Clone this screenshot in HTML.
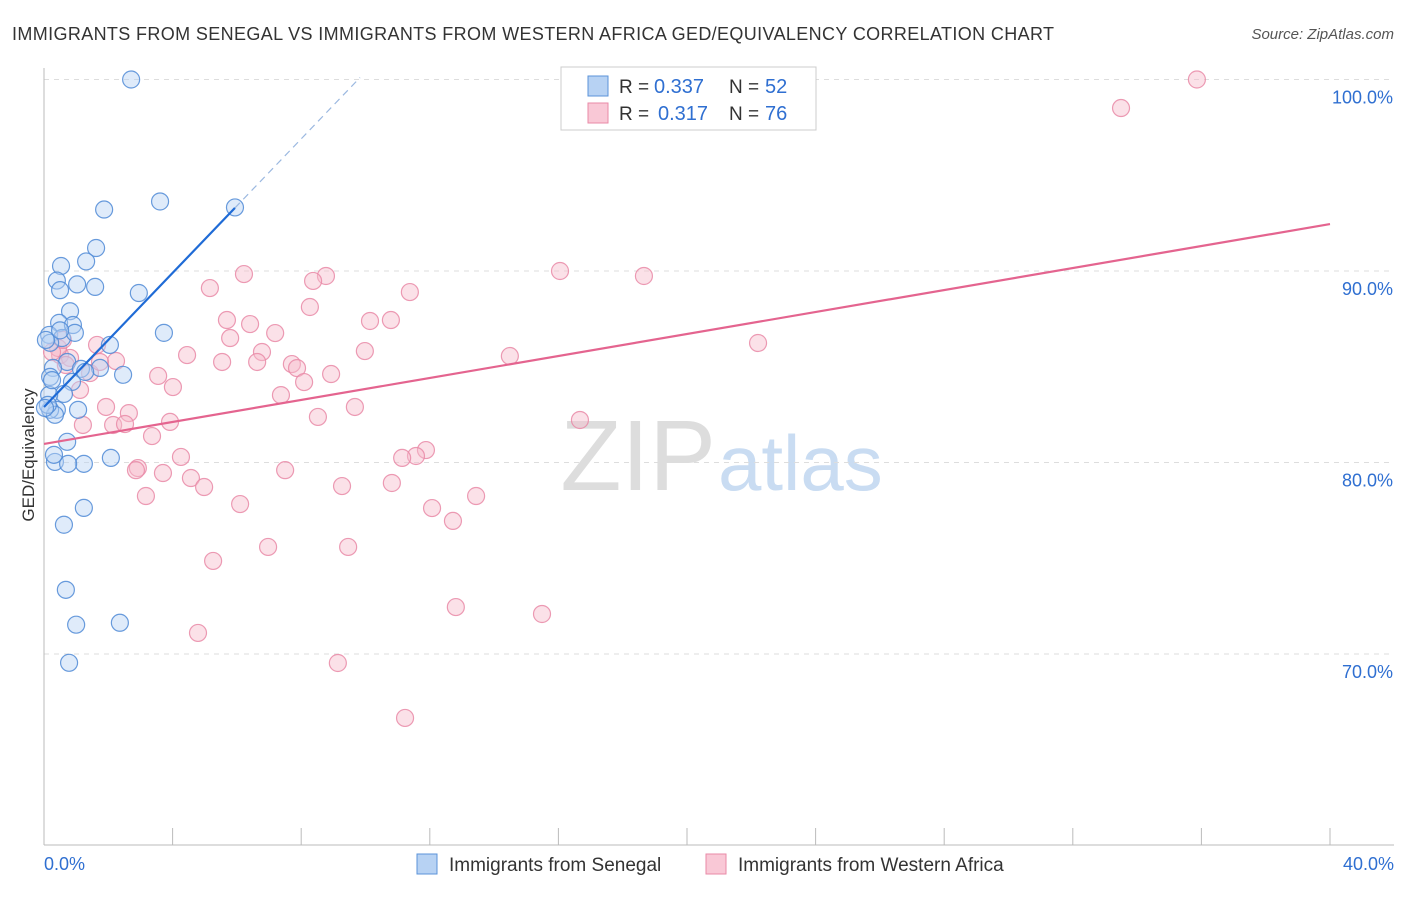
<!DOCTYPE html>
<html><head><meta charset="utf-8"><style>
body{margin:0;background:#fff;font-family:"Liberation Sans",sans-serif}
svg text{font-family:"Liberation Sans",sans-serif}
</style></head><body>
<svg id="chart" width="1406" height="892">
<text x="12" y="40" font-size="18" fill="#333" textLength="1042">IMMIGRANTS FROM SENEGAL VS IMMIGRANTS FROM WESTERN AFRICA GED/EQUIVALENCY CORRELATION CHART</text>
<text x="1394" y="39" font-size="15" fill="#555" text-anchor="end" font-style="italic">Source: ZipAtlas.com</text>
<text x="716" y="490" font-size="100" fill="#ddd" text-anchor="end" font-family="Liberation Serif">ZIP</text>
<text x="718" y="490" font-size="78" fill="#c9dcf2">atlas</text>
<text transform="translate(34,455) rotate(-90)" font-size="17" fill="#333" text-anchor="middle">GED/Equivalency</text>
<g id="grid"></g><g id="axes"></g><g id="pts"></g><g id="trend"></g>
<g>
<rect x="561" y="67" width="255" height="63" fill="#fff" stroke="#ccc"/>
<rect x="588" y="76" width="20" height="20" fill="#b7d2f3" stroke="#5b93d8"/>
<rect x="588" y="103" width="20" height="20" fill="#f9c8d6" stroke="#e98aa7"/>
<text x="619" y="93" font-size="19" fill="#333">R =</text><text x="654" y="93" font-size="20" fill="#2f6fd1">0.337</text>
<text x="729" y="93" font-size="19" fill="#333">N =</text><text x="765" y="93" font-size="20" fill="#2f6fd1">52</text>
<text x="619" y="120" font-size="19" fill="#333">R =</text><text x="658" y="120" font-size="20" fill="#2f6fd1">0.317</text>
<text x="729" y="120" font-size="19" fill="#333">N =</text><text x="765" y="120" font-size="20" fill="#2f6fd1">76</text>
</g>
<g>
<rect x="417" y="854" width="20" height="20" fill="#b7d2f3" stroke="#5b93d8"/>
<text x="449" y="871" font-size="19" fill="#333">Immigrants from Senegal</text>
<rect x="706" y="854" width="20" height="20" fill="#f9c8d6" stroke="#e98aa7"/>
<text x="738" y="871" font-size="19" fill="#333">Immigrants from Western Africa</text>
</g>
<text x="44" y="870" font-size="18" fill="#2f6fd1">0.0%</text>
<text x="1394" y="870" font-size="18" fill="#2f6fd1" text-anchor="end">40.0%</text>
</svg>
<script>
const yTicks=[100,90,80,70];
const yTickLabels=["100.0%","90.0%","80.0%","70.0%"];
const xTicks=[0,4,8,12,16,20,24,28,32,36,40];
const blueX=[2.71,3.61,1.87,5.94,1.62,1.31,0.53,0.40,1.03,1.59,0.50,2.95,0.81,0.47,0.90,3.73,0.16,0.56,0.96,2.05,0.19,0.72,1.74,1.15,2.46,0.28,0.87,0.62,0.19,0.16,1.06,0.40,0.19,0.34,0.72,2.08,0.34,1.24,0.75,1.24,0.62,0.68,1.0,2.36,0.78,0.12,0.31,0.06,0.25,0.5,0.03,1.28];
const blueY=[100.0,93.63,93.21,93.32,91.2,90.5,90.26,89.5,89.3,89.17,89.0,88.85,87.9,87.29,87.18,86.77,86.66,86.5,86.77,86.14,86.25,85.25,84.94,84.89,84.58,84.94,84.21,83.58,84.47,83.53,82.75,82.75,82.75,82.49,81.08,80.24,80.03,79.93,79.93,77.63,76.75,73.35,71.53,71.63,69.54,83.01,80.4,86.4,84.3,86.9,82.85,84.73];
const pinkX=[35.86,33.5,16.05,18.66,6.22,8.77,8.37,5.16,11.38,8.27,5.69,10.14,10.79,6.41,7.19,5.79,22.21,1.65,9.98,6.78,4.45,14.49,2.24,5.54,6.63,7.71,7.87,0.5,0.81,0.44,0.68,1.43,3.55,8.93,8.09,4.01,1.12,7.37,1.93,9.67,2.64,8.52,16.67,3.92,2.15,2.52,1.21,3.36,11.88,11.57,11.14,4.26,2.92,2.86,3.7,7.5,4.57,4.98,9.27,10.82,13.44,3.17,6.1,12.07,12.72,6.97,9.46,5.26,12.81,15.49,4.79,9.14,11.23,0.25,0.59,1.74];
const pinkY=[100.0,98.51,90.0,89.74,89.84,89.74,89.48,89.11,88.9,88.12,87.44,87.39,87.44,87.23,86.76,86.5,86.24,86.14,85.82,85.77,85.61,85.56,85.3,85.25,85.25,85.14,84.93,85.61,85.46,85.98,85.09,84.67,84.52,84.62,84.2,83.94,83.79,83.52,82.9,82.9,82.58,82.38,82.22,82.12,81.96,82.01,81.96,81.38,80.65,80.34,80.24,80.29,79.71,79.6,79.45,79.6,79.19,78.72,78.77,78.93,78.25,78.25,77.83,77.62,76.95,75.59,75.59,74.86,72.45,72.09,71.1,69.53,66.66,85.77,86.4,85.25];
const blueTrend=[82.9,1.75];
const pinkTrend=[80.97,0.287];
const NS="http://www.w3.org/2000/svg";
const X=v=>44+v*1286/40;
const Y=v=>79.5+(100-v)*19.15;
function mk(tag,attrs,parent){const e=document.createElementNS(NS,tag);for(const k in attrs)e.setAttribute(k,attrs[k]);document.getElementById(parent).appendChild(e);return e;}
yTicks.forEach((t,i)=>{
 const l=mk('line',{x1:44,x2:1394,y1:Y(t),y2:Y(t),stroke:'#ddd','stroke-dasharray':'5,5'},'grid');
 
 
 const tx=mk('text',{x:1393,y:Y(t)+24,'font-size':18,fill:'#2f6fd1','text-anchor':'end'},'grid');
 tx.textContent=yTickLabels[i];
 
 
});
const ya=mk('line',{x1:44,x2:44,y1:68,y2:845,stroke:'#bbb'},'axes');


const xa=mk('line',{x1:44,x2:1394,y1:845,y2:845,stroke:'#bbb'},'axes');


xTicks.forEach(t=>{const l=mk('line',{x1:X(t),x2:X(t),y1:828,y2:845,stroke:'#bbb'},'axes');
 
 });
function pts(xs,ys,fill,stroke,name){xs.forEach((x,i)=>{const c=mk('circle',{cx:X(x),cy:Y(ys[i]),r:8.5,fill:fill,'fill-opacity':0.45,stroke:stroke,'stroke-opacity':0.85,'stroke-width':1.2},'pts');
 
 });}
pts(pinkX,pinkY,'#f6bccd','#e98aa7','point-western-africa');
pts(blueX,blueY,'#b7d2f3','#4f8ad6','point-senegal');
const bx1=5.94,bx2=9.83;
const b1=mk('line',{x1:X(0),y1:Y(blueTrend[0]),x2:X(bx1),y2:Y(blueTrend[0]+blueTrend[1]*bx1),stroke:'#1f6bd6','stroke-width':2.2},'trend');


const b2=mk('line',{x1:X(bx1),y1:Y(blueTrend[0]+blueTrend[1]*bx1),x2:X(bx2),y2:Y(blueTrend[0]+blueTrend[1]*bx2),stroke:'#9bb8e0','stroke-width':1.2,'stroke-dasharray':'7,5'},'trend');


const p1=mk('line',{x1:X(0),y1:Y(pinkTrend[0]),x2:X(40),y2:Y(pinkTrend[0]+pinkTrend[1]*40),stroke:'#e4648f','stroke-width':2.2},'trend');


</script>
</body></html>
